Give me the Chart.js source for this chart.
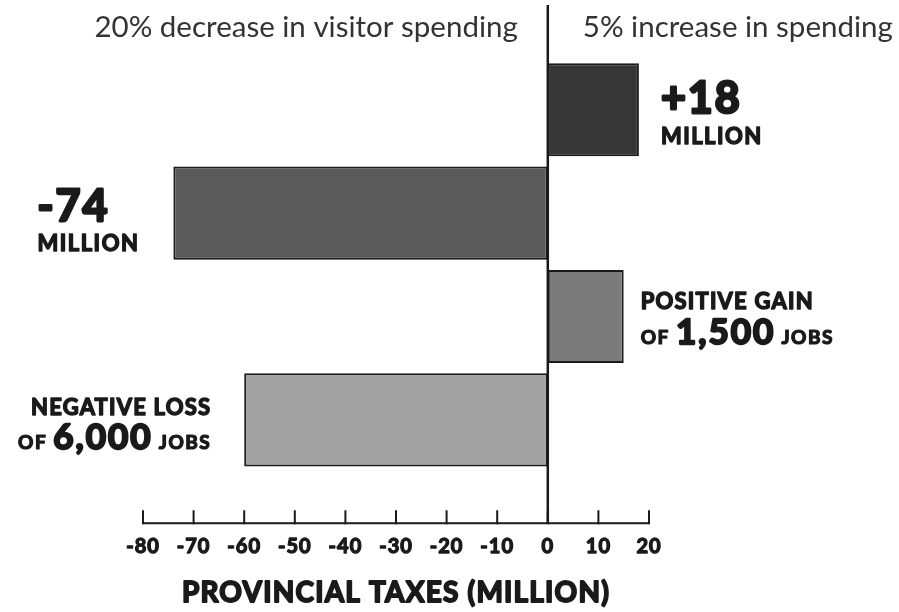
<!DOCTYPE html>
<html>
<head>
<meta charset="utf-8">
<script src="https://cdn.jsdelivr.net/npm/chart.js@4"></script>
<style>
  html, body { margin:0; padding:0; background:#fff; }
  #wrap { width:899px; height:612px; position:relative; }
</style>
</head>
<body>
<div id="wrap"><canvas id="chart"></canvas></div>
<script>
// rows: tax change for +5% / -20% spending, then job change for the same two cases
const categories = ['Taxes +5%', 'Taxes -20%', 'Jobs +5%', 'Jobs -20%', ''];
const taxValues  = [18, -74];         // provincial taxes, million
const jobValues  = [1500, -6000];     // jobs, plotted at 1/100 on the tax axis
const JOB_SCALE  = 100;
const xTicks     = [-80, -70, -60, -50, -40, -30, -20, -10, 0, 10, 20];
const headers    = ['20% decrease in visitor spending', '5% increase in spending'];
const axisTitle  = 'PROVINCIAL TAXES (MILLION)';

const barColors = ['#363636', '#5a5a5a', '#7b7b7b', '#a2a2a2'];
const INK  = '#1a1a1a';
const FONT = 'Lato, "Open Sans", sans-serif';

const barValues = [taxValues[0], taxValues[1], jobValues[0] / JOB_SCALE, jobValues[1] / JOB_SCALE, null];

const signed = v => (v > 0 ? '+' : '') + v;
const fmtInt = v => Math.abs(v).toLocaleString('en-US');

// text blocks beside each bar: lines of runs {t, s: size, k: letter spacing}
const big   = t => ({ t, s: 43, k: 2 });
const small = t => ({ t, s: 22, k: 1.5 });
const word  = t => ({ t, s: 19, k: 1.5 });
const num   = t => ({ t, s: 35, k: 2 });
const notes = [
  { side: 'right', gap: 22, dy: [3, 34], align: 'left',
    lines: [[big(signed(taxValues[0]))], [small('MILLION')]] },
  { side: 'left', gap: 34, dy: [8, 38], align: 'left',
    lines: [[big(signed(taxValues[1]))], [small('MILLION')]] },
  { side: 'right', gap: 17, dy: [-8, 27], align: 'left',
    lines: [[{ t: 'POSITIVE GAIN', s: 22, k: 1.2 }],
            [word('OF '), num(fmtInt(jobValues[0])), word(' JOBS')]] },
  { side: 'left', gap: 33, dy: [-5, 29], align: 'right',
    lines: [[{ t: 'NEGATIVE LOSS', s: 22, k: 1.2 }],
            [word('OF '), num(fmtInt(jobValues[1])), word(' JOBS')]] }
];

function setHeavy(ctx, s, k){
  ctx.font = `bold ${s}px ${FONT}`;
  ctx.letterSpacing = `${k}px`;
  ctx.lineWidth = s * 0.065;
}
// bold text thickened with a thin stroke of the same colour
function heavyText(ctx, t, x, y, s, k){
  setHeavy(ctx, s, k);
  ctx.fillText(t, x, y);
  ctx.strokeText(t, x, y);
}
function runWidth(ctx, runs){
  let w = 0;
  for (const r of runs){ setHeavy(ctx, r.s, r.k); w += ctx.measureText(r.t).width; }
  return w;
}
function drawRuns(ctx, runs, x, y){
  for (const r of runs){
    heavyText(ctx, r.t, x, y, r.s, r.k);
    x += ctx.measureText(r.t).width;
  }
}

const decor = {
  id: 'decor',
  afterDatasetsDraw(chart){
    const ctx = chart.ctx;
    const xs = chart.scales.x, ys = chart.scales.y;
    const zero  = xs.getPixelForValue(0);
    const axisY = ys.getPixelForValue(categories.length - 1);
    const x0 = xs.getPixelForValue(xTicks[0]);
    const x1 = xs.getPixelForValue(xTicks[xTicks.length - 1]);

    ctx.save();
    ctx.strokeStyle = INK;
    ctx.fillStyle = INK;
    ctx.lineCap = 'butt';
    ctx.lineJoin = 'round';

    // zero line, runs up between the headers
    ctx.lineWidth = 2.5;
    ctx.beginPath(); ctx.moveTo(zero, 5); ctx.lineTo(zero, axisY); ctx.stroke();

    // x axis with upward ticks
    ctx.lineWidth = 2;
    ctx.beginPath(); ctx.moveTo(x0, axisY); ctx.lineTo(x1, axisY); ctx.stroke();
    ctx.beginPath();
    for (const v of xTicks){
      const px = xs.getPixelForValue(v);
      ctx.moveTo(px, axisY + 1); ctx.lineTo(px, axisY - 13);
    }
    ctx.stroke();

    ctx.textAlign = 'center';
    ctx.textBaseline = 'middle';
    for (const v of xTicks) heavyText(ctx, String(v), xs.getPixelForValue(v), axisY + 23, 20, 1);

    heavyText(ctx, axisTitle, (x0 + x1) / 2, axisY + 70, 28, 1.2);

    // headers either side of the zero line
    ctx.fillStyle = '#333333';
    ctx.font = `400 29.5px ${FONT}`;
    ctx.letterSpacing = '0px';
    ctx.textAlign = 'right';
    ctx.fillText(headers[0], zero - 30, 27);
    ctx.textAlign = 'left';
    ctx.fillText(headers[1], zero + 35, 27);

    // value notes next to the bars
    ctx.fillStyle = INK;
    ctx.textBaseline = 'alphabetic';
    ctx.textAlign = 'left';
    const meta = chart.getDatasetMeta(0);
    notes.forEach((n, i) => {
      const el = meta.data[i];
      const widths = n.lines.map(l => runWidth(ctx, l));
      const maxW = Math.max(...widths);
      n.lines.forEach((line, j) => {
        let x;
        if (n.side === 'right') x = el.x + n.gap;
        else if (n.align === 'right') x = el.x - n.gap - widths[j];
        else x = el.x - n.gap - maxW;
        drawRuns(ctx, line, x, el.y + n.dy[j]);
      });
    });
    ctx.restore();
  }
};

new Chart(document.getElementById('chart'), {
  type: 'bar',
  data: {
    labels: categories,
    datasets: [{
      data: barValues,
      backgroundColor: barColors,
      borderColor: INK,
      borderWidth: 2,
      borderSkipped: false,
      barPercentage: 0.9,
      categoryPercentage: 1
    }]
  },
  options: {
    indexAxis: 'y',
    responsive: true,
    maintainAspectRatio: false,
    animation: false,
    layout: { padding: { left: 143, right: 250, top: 58, bottom: 37 } },
    plugins: { legend: { display: false }, tooltip: { enabled: false } },
    scales: {
      x: { display: false, min: xTicks[0], max: xTicks[xTicks.length - 1] },
      y: { display: false }
    }
  },
  plugins: [decor]
});
</script>
</body>
</html>
